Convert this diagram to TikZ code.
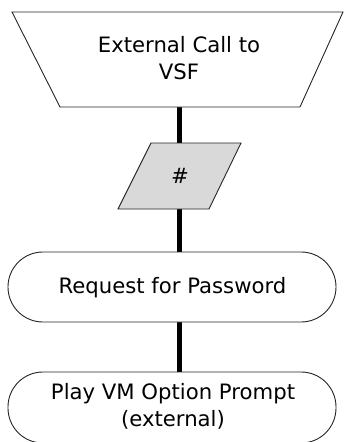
\documentclass[tikz,border=0pt]{standalone}
\usepackage{fontspec}
\setmainfont{DejaVu Sans}
\begin{document}
\begin{tikzpicture}[x=1pt,y=-1pt,
  conn/.style={line width=5.5pt},
  outline/.style={draw=black!85, line width=0.9pt},
  lbl/.style={font=\fontsize{21.2}{27}\selectfont, align=center, inner sep=0pt}]
\useasboundingbox (0,0) rectangle (345,442);
\clip (0,0) rectangle (345,442);
% connector end points
\coordinate (trapB) at (179.5,107);
\coordinate (paraT) at (179.5,143);
\coordinate (paraB) at (179.5,209);
\coordinate (reqT) at (179.5,252);
\coordinate (reqB) at (179.5,322);
\coordinate (playT) at (179.5,372);
% connectors
\draw[conn] (trapB) -- (paraT);
\draw[conn] (paraB) -- (reqT);
\draw[conn] (reqB) -- (playT);
% shapes
\draw[outline, fill=white] (12,12) -- (343,12) -- (300,107) -- (60,107) -- cycle;
\draw[outline, fill=black!15] (151,143) -- (241,143) -- (209,209) -- (118,209) -- cycle;
\draw[outline, fill=white, rounded corners=34.9pt] (8,252) rectangle (336,322);
\draw[outline, fill=white, rounded corners=34.9pt] (8,372) rectangle (336,443);
% labels
\node[lbl] (ext) at (179,58) {External Call to\\VSF};
\node[lbl] (hash) at (180,176) {\#};
\node[lbl] (req) at (172.5,288) {Request for Password};
\node[lbl] (play) at (173,406) {Play VM Option Prompt\\(external)};
\end{tikzpicture}
\end{document}
